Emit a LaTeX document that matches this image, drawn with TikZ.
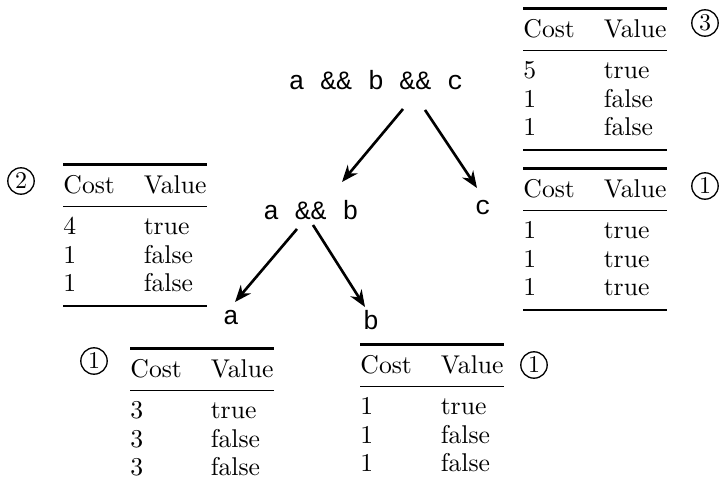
\documentclass[tikz,border=0pt]{standalone}
\usepackage{fontspec}
\setmonofont{Liberation Mono}
\usepackage{booktabs}
\usetikzlibrary{arrows.meta,positioning}

\setlength{\tabcolsep}{6pt}
\setlength{\heavyrulewidth}{1.1pt}
\setlength{\lightrulewidth}{0.7pt}
\newcommand{\cvtab}[6]{%
  \begin{tabular}{@{}l l@{}}
    \toprule
    Cost & Value\\
    \midrule
    #1 & #2\\
    #3 & #4\\
    #5 & #6\\
    \bottomrule
  \end{tabular}}

\begin{document}
\begin{tikzpicture}[
    x=0.41667pt,y=-0.41667pt,
    >={Stealth[length=7pt,width=5.5pt]},
    expr/.style={
        inner sep=0pt,
        font=\fontsize{11}{13}\selectfont\ttfamily
    },
    costtab/.style={
        inner sep=0pt,
        anchor=north west,
        font=\fontsize{10.7}{12}\selectfont
    },
    numcirc/.style={
        circle,
        draw=black,
        line width=0.55pt,
        minimum size=11pt,
        inner sep=0pt,
        font=\fontsize{10}{12}\selectfont
    },
    edge/.style={->, line width=1.1pt, draw=black}
]
\useasboundingbox (0,0) rectangle (719,483);

% -----------------------------------------------------------------------------
% Expression tree
% -----------------------------------------------------------------------------
\node[expr] (abc) at (376,80) {a \&\& b \&\& c};
\node[expr] (ab) at (311,210) {a \&\& b};
\node[expr] (c) at (483,208) {c};
\node[expr] (a) at (231,318) {a};
\node[expr] (b) at (371,320) {b};

\draw[edge] ([shift={(27,29)}]abc.center) -- ([shift={(31,-28)}]ab.center);
\draw[edge] ([shift={(49,30)}]abc.center) -- ([shift={(-6,-20)}]c.center);
\draw[edge] ([shift={(-14,19)}]ab.center) -- ([shift={(4,-16)}]a.center);
\draw[edge] ([shift={(2,15)}]ab.center) -- ([shift={(-6,-13)}]b.center);

% -----------------------------------------------------------------------------
% Cost tables
% -----------------------------------------------------------------------------
\node[costtab] (tabc3) at (523,7) {\cvtab{5}{true}{1}{false}{1}{false}};
\node[numcirc] (m3) at (705,23) {3};

\node[costtab] (tabc) at (523,167) {\cvtab{1}{true}{1}{true}{1}{true}};
\node[numcirc] (mc) at (705,186) {1};

\node[costtab] (tabab) at (63,163) {\cvtab{4}{true}{1}{false}{1}{false}};
\node[numcirc] (mab) at (21,181) {2};

\node[costtab] (taba) at (130,347) {\cvtab{3}{true}{3}{false}{3}{false}};
\node[numcirc] (ma) at (94,361) {1};

\node[costtab] (tabb) at (360,343) {\cvtab{1}{true}{1}{false}{1}{false}};
\node[numcirc] (mb) at (534,365) {1};

\end{tikzpicture}
\end{document}
